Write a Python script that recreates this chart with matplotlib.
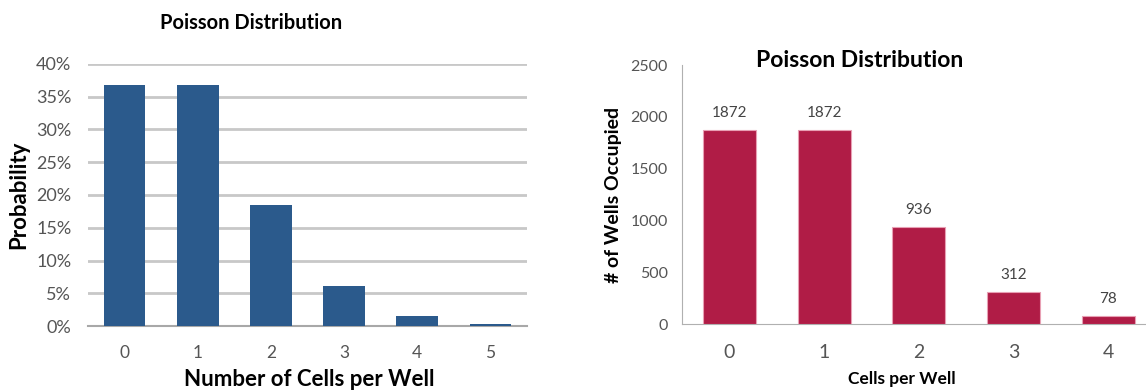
import numpy as np
import matplotlib
matplotlib.use("Agg")
import matplotlib.pyplot as plt
from matplotlib.ticker import PercentFormatter

# data
cells_left = ["0", "1", "2", "3", "4", "5"]
probability = [36.8, 36.8, 18.4, 6.1, 1.5, 0.3]

cells_right = ["0", "1", "2", "3", "4"]
wells_occupied = [1872, 1872, 936, 312, 78]

plt.rcParams["font.family"] = ["Lato", "DejaVu Sans"]

blue = "#2b5a8c"
red = "#b01c46"
grey_txt = "#555555"

fig = plt.figure(figsize=(11.46, 3.9), dpi=100)

# left chart: probability
ax1 = fig.add_axes([0.0768, 0.164, 0.3831, 0.672])
x1 = np.arange(len(cells_left))
ax1.bar(x1, probability, width=0.57, color=blue, zorder=3)
ax1.set_xlim(-0.5, len(cells_left) - 0.5)
ax1.set_ylim(0, 40)
ax1.set_yticks(np.arange(0, 41, 5))
ax1.yaxis.set_major_formatter(PercentFormatter(decimals=0))
ax1.set_xticks(x1)
ax1.set_xticklabels(cells_left)
ax1.grid(axis="y", color="#c8c8c8", lw=2, zorder=0)
for s in ["top", "right", "left"]:
    ax1.spines[s].set_visible(False)
ax1.spines["bottom"].set_color("#a8a8a8")
ax1.spines["bottom"].set_linewidth(1.5)
ax1.tick_params(axis="both", length=0, colors=grey_txt)
ax1.tick_params(axis="y", labelsize=13, pad=12)
ax1.tick_params(axis="x", labelsize=12.5, pad=14)
fig.text(0.016, 0.5, "Probability", rotation=90, ha="center", va="center",
         fontsize=16, fontweight="bold")
fig.text(0.219, 0.94, "Poisson Distribution", ha="center", va="center",
         fontsize=14.5, fontweight="bold")
fig.text(0.270, 0.026, "Number of Cells per Well", ha="center", va="center",
         fontsize=16, fontweight="bold")

# right chart: wells occupied
ax2 = fig.add_axes([0.595, 0.169, 0.4136, 0.664])
x2 = np.arange(len(cells_right))
bars = ax2.bar(x2, wells_occupied, width=0.56, color=red,
               edgecolor="#e8a0b4", linewidth=0.8, zorder=3)
ax2.set_xlim(-0.5, len(cells_right) - 0.5)
ax2.set_ylim(0, 2500)
ax2.set_yticks(np.arange(0, 2501, 500))
ax2.set_xticks(x2)
ax2.set_xticklabels(cells_right)
for s in ["top", "right"]:
    ax2.spines[s].set_visible(False)
ax2.spines["left"].set_color("#b0b0b0")
ax2.spines["bottom"].set_color("#b0b0b0")
ax2.tick_params(axis="both", length=0, colors=grey_txt)
ax2.tick_params(axis="y", labelsize=11.5, pad=10)
ax2.tick_params(axis="x", labelsize=14, pad=14)
for b, v in zip(bars, wells_occupied):
    ax2.annotate(str(v), (b.get_x() + b.get_width() / 2, v),
                 xytext=(0, 7), textcoords="offset points",
                 ha="center", va="bottom", fontsize=11, color="#444444")
fig.text(0.535, 0.5, "# of Wells Occupied", rotation=90, ha="center",
         va="center", fontsize=14, fontweight="bold")
fig.text(0.750, 0.846, "Poisson Distribution", ha="center", va="center",
         fontsize=16.5, fontweight="bold")
fig.text(0.787, 0.028, "Cells per Well", ha="center", va="center",
         fontsize=12.5, fontweight="bold")

fig.savefig("out.png", dpi=100, facecolor="white")
